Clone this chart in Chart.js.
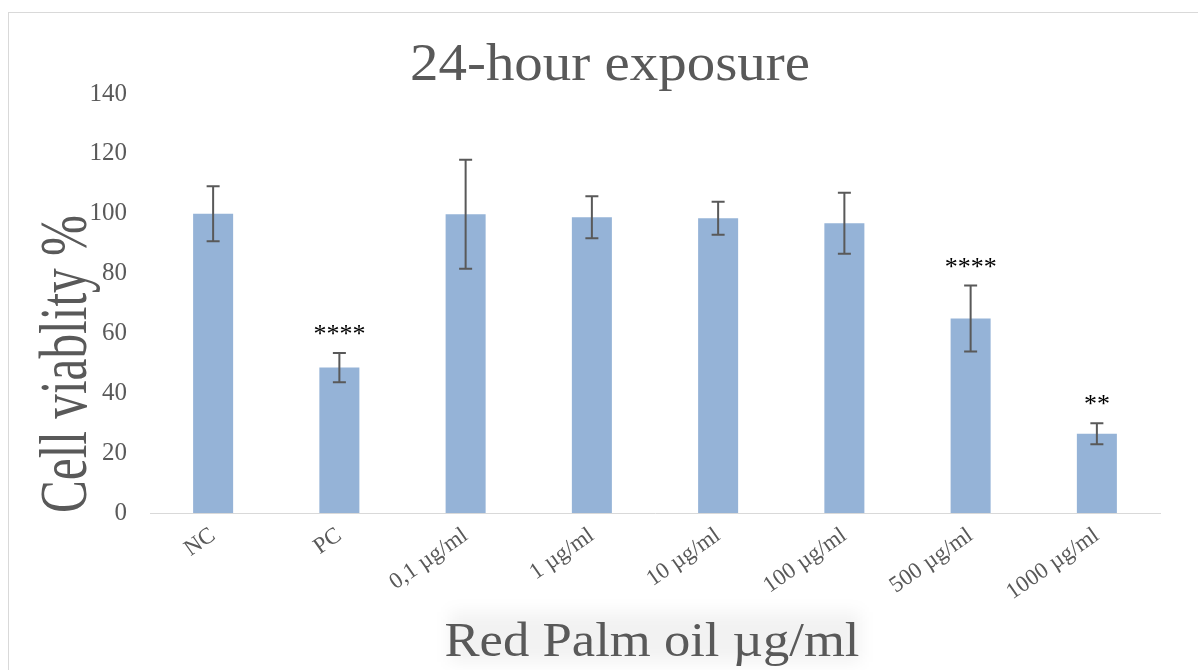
<!DOCTYPE html>
<html>
<head>
<meta charset="utf-8">
<script src="https://cdn.jsdelivr.net/npm/chart.js@4.4.1/dist/chart.umd.min.js"></script>
<style>
    html, body { margin: 0; padding: 0; background: #fff; overflow: hidden; }
    .frame {
        position: absolute; left: 8px; top: 12px; width: 1400px; height: 900px;
        border-left: 1px solid #d9d9d9; border-top: 1px solid #d9d9d9;
    }
    .chart-box { position: absolute; left: 0; top: 0; width: 1198px; height: 670px; }
</style>
</head>
<body>
<div class="frame"></div>
<div class="chart-box"><canvas id="viabilityChart"></canvas></div>
<script>
// values
const categories = ["NC", "PC", "0,1 µg/ml", "1 µg/ml", "10 µg/ml", "100 µg/ml", "500 µg/ml", "1000 µg/ml"];
const viability = [100, 48.6, 99.8, 98.8, 98.5, 96.8, 65, 26.5];
const errors = [9.2, 4.9, 18.2, 7, 5.5, 10.2, 11, 3.5];
const stars = ["", "****", "", "", "", "", "****", "**"];
const yMin = 0, yMax = 140, yStep = 20;

const titleText = "24-hour exposure";
const xTitleText = "Red Palm oil µg/ml";
const yTitleText = "Cell viablity %";

const textGrey = "#595959";
const serif = "'Liberation Serif', 'Times New Roman', serif";

// draw text squeezed/stretched to a target width (the original titles are distorted)
function drawFitted(ctx, text, size, cx, baseY, targetW, vertical) {
    ctx.save();
    ctx.font = size + "px " + serif;
    ctx.fillStyle = textGrey;
    ctx.textAlign = "center";
    ctx.textBaseline = "alphabetic";
    ctx.translate(cx, baseY);
    if (vertical) ctx.rotate(-Math.PI / 2);
    const w = ctx.measureText(text).width;
    ctx.scale(targetW / w, 1);
    ctx.fillText(text, 0, 0);
    ctx.restore();
}

const decorations = {
    id: "decorations",
    beforeDraw(chart) {
        // faint smudge behind the x title
        const ctx = chart.ctx;
        ctx.save();
        ctx.filter = "blur(8px)";
        ctx.fillStyle = "rgba(0,0,0,0.05)";
        ctx.fillRect(450, 612, 410, 50);
        ctx.restore();
    },
    afterDatasetsDraw(chart) {
        const ctx = chart.ctx;
        const y = chart.scales.y;
        const meta = chart.getDatasetMeta(0);

        ctx.save();
        ctx.strokeStyle = textGrey;
        ctx.lineWidth = 2;
        meta.data.forEach((bar, i) => {
            const top = y.getPixelForValue(viability[i] + errors[i]);
            const bot = y.getPixelForValue(viability[i] - errors[i]);
            ctx.beginPath();
            ctx.moveTo(bar.x, top); ctx.lineTo(bar.x, bot);
            ctx.moveTo(bar.x - 6.5, top); ctx.lineTo(bar.x + 6.5, top);
            ctx.moveTo(bar.x - 6.5, bot); ctx.lineTo(bar.x + 6.5, bot);
            ctx.stroke();

            if (stars[i]) {
                ctx.fillStyle = "#000";
                ctx.font = "26px " + serif;
                ctx.textAlign = "center";
                ctx.textBaseline = "alphabetic";
                ctx.fillText(stars[i], bar.x, top - 24 + 13);
            }
        });
        ctx.restore();

        drawFitted(ctx, titleText, 53, 610, 80, 400, false);
        drawFitted(ctx, xTitleText, 48, 652, 656, 415, false);
        drawFitted(ctx, yTitleText, 68, 86, 364, 298, true);
    }
};

new Chart(document.getElementById("viabilityChart").getContext("2d"), {
    type: "bar",
    data: {
        labels: categories,
        datasets: [{
            label: "Cell viability",
            data: viability,
            backgroundColor: "#95b3d7",
            categoryPercentage: 1,
            barPercentage: 0.317
        }]
    },
    options: {
        responsive: true,
        maintainAspectRatio: false,
        animation: false,
        layout: { padding: { top: 94, right: 38, bottom: 0, left: 0 } },
        plugins: {
            legend: { display: false },
            tooltip: { enabled: false }
        },
        scales: {
            x: {
                grid: { display: false, drawTicks: false },
                border: { display: true, color: "#d9d9d9", width: 1 },
                ticks: {
                    color: textGrey,
                    font: { family: serif, size: 23 },
                    minRotation: 35,
                    maxRotation: 35,
                    padding: 9,
                    autoSkip: false
                },
                afterFit: (s) => { s.height = 157; }
            },
            y: {
                min: yMin,
                max: yMax,
                grid: { display: false, drawTicks: false },
                border: { display: false },
                ticks: {
                    stepSize: yStep,
                    color: textGrey,
                    font: { family: serif, size: 25 },
                    padding: 23
                },
                afterFit: (s) => { s.width = 150; }
            }
        }
    },
    plugins: [decorations]
});
</script>
</body>
</html>
